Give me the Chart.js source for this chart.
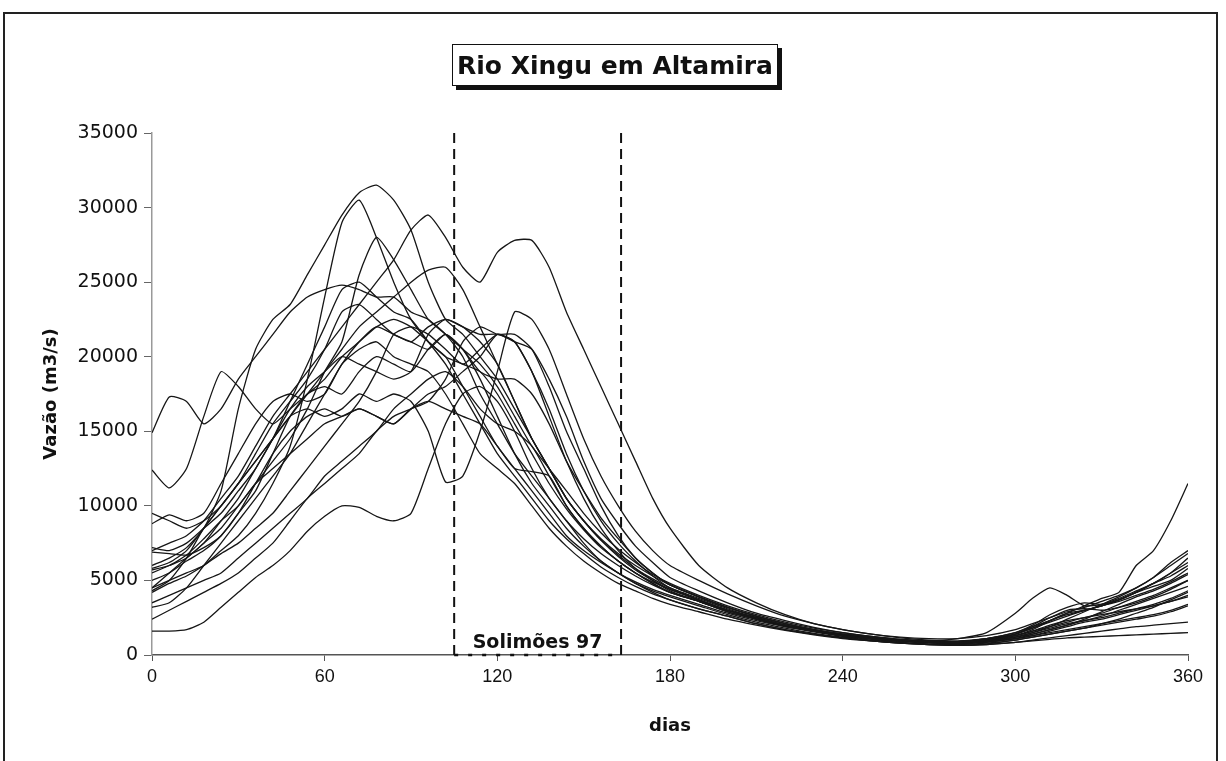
<!DOCTYPE html>
<html>
<head>
<meta charset="utf-8">
<script src="https://cdn.jsdelivr.net/npm/chart.js@4"></script>
<style>
  body { margin: 0; background: #fff; }
  #wrap { position: relative; width: 1226px; height: 761px; overflow: hidden; }
  #frame { position: absolute; left: 3px; top: 12px; width: 1211px; height: 760px;
           border: 2px solid #222; border-bottom: none; }
  #title { position: absolute; left: 452px; top: 44px; width: 324px; height: 40px;
           border: 1px solid #111; box-shadow: 4px 4px 0 #111; background: #fff;
           font: bold 25px "DejaVu Sans", sans-serif; color: #111;
           display: flex; align-items: center; justify-content: center; }
  canvas { position: absolute; left: 0; top: 0; }
</style>
</head>
<body>
<div id="wrap">
  <div id="frame"></div>
  <canvas id="chart" width="1226" height="761"></canvas>
  <div id="title">Rio Xingu em Altamira</div>
</div>
<script>
// dias do ano (eixo x) comuns a todas as series
const days = [0, 6, 12, 18, 24, 30, 36, 42, 48, 54, 60, 66, 72, 78, 84, 90, 96, 102, 108, 114, 120,
  126, 132, 138, 144, 150, 156, 162, 168, 174, 180,
  190, 200, 210, 220, 230, 240, 250, 260, 270, 280, 290, 300,
  306, 312, 318, 324, 330, 336, 342, 348, 354, 360];

// vazoes (m3/s), uma lista por ano
const s1 = [6000,6500,7200,8500,11000,16500,20500,22500,23500,25500,27500,29500,31000,31500,30500,28500,25000,22500,21500,20000,18500,
  16500,14500,12500,10500,9000,7800,6800,6000,5300,4700,
  3900,3200,2600,2100,1700,1400,1200,1000,900,850,1000,1300,1600,2000,2300,2500,2800,3200,3600,4000,4500,5000];
const s2 = [4500,5000,5500,6000,7000,8000,9500,11500,14000,18500,24000,29000,30500,28000,25000,22500,21000,20000,18000,16000,14000,
  12500,11000,9500,8000,7000,6200,5500,4900,4400,4000,
  3400,2800,2300,1900,1600,1300,1100,950,850,800,900,1200,1500,1800,2100,2300,2600,3000,3400,3800,4200,4600];
const s3 = [5500,6000,6500,7500,8500,10000,11500,13000,14500,16500,19000,21000,25500,28000,26500,24500,22500,21500,20500,19500,18000,
  16000,14000,12500,11000,9500,8200,7100,6200,5400,4800,
  4000,3300,2700,2200,1800,1500,1250,1050,950,900,1100,1500,2000,2700,3200,3500,3400,3700,4200,4800,5500,6200];
const s4 = [7000,7500,8000,9000,10500,12000,14000,16000,17500,19000,20500,22000,23500,25000,26500,28500,29500,28000,26000,25000,27000,
  27800,27800,26000,23000,20500,18000,15500,13000,10500,8500,
  6000,4500,3500,2700,2100,1700,1400,1200,1100,1100,1300,1700,2100,2500,2900,3200,3600,4000,4500,5200,6200,7000];
const s5 = [14900,17300,17000,15500,16500,18500,20000,21500,23000,24000,24500,24800,24500,24000,24000,23000,22500,21500,20000,17500,15500,
  13500,12000,10500,9000,7800,6800,6000,5300,4700,4200,
  3600,3000,2500,2000,1600,1300,1100,950,850,800,950,1200,1400,1700,2000,2400,2900,3400,3900,4300,4800,5400];
const s6 = [12400,11200,12500,16000,19000,18000,16500,15500,16500,17500,18500,20000,21000,22000,22500,22000,21000,20000,19500,19000,17500,
  15500,13500,11500,9800,8400,7200,6300,5500,4900,4400,
  3700,3000,2500,2000,1650,1350,1150,1000,900,900,1100,1500,1900,2300,2800,3300,3800,4200,6000,7000,9000,11500];
const s7 = [5800,6200,7000,8500,10000,11500,13000,14500,16000,16500,16000,16500,17500,17000,17500,17000,15000,11600,12000,15000,19000,
  23000,22500,20500,17500,14500,12000,10000,8300,7000,6000,
  5000,4100,3300,2600,2100,1700,1400,1150,1000,950,1100,1400,1800,2200,2600,3000,3300,3700,4200,4600,5000,5800];
const s8 = [1600,1600,1700,2200,3200,4200,5200,6000,7000,8300,9300,10000,9900,9300,9000,9500,12500,15500,17500,18000,17000,
  15000,12500,10500,9000,7500,6300,5500,4800,4200,3700,
  3100,2600,2100,1700,1400,1150,950,800,700,650,750,1000,1200,1400,1600,1800,2000,2200,2400,2600,2900,3300];
const s9 = [2400,3000,3600,4200,4800,5500,6500,7500,9000,10500,11500,12500,13500,15000,16000,16500,17000,18500,21000,22000,21500,
  21500,20500,18000,15000,12500,10000,8000,6500,5500,4700,
  3900,3200,2600,2100,1700,1400,1200,1000,950,1100,1500,2800,3800,4500,4000,3300,3400,3800,4300,4800,5500,6500];
const s10 = [3200,3500,4500,6000,7500,9000,10500,12000,13500,15500,17500,19500,21000,22000,21500,21000,22000,22500,22000,21500,21500,
  21000,19000,16500,13500,11000,9000,7500,6300,5300,4500,
  3700,3000,2400,1900,1550,1250,1050,900,800,750,850,1100,1300,1500,1700,1900,2100,2300,2500,2700,3000,3400];
const s11 = [4300,5000,6500,8500,10000,11500,13500,15500,17000,18500,20500,23000,23500,22500,21500,21000,20500,21500,20500,18500,16000,
  13500,11500,10000,8500,7300,6300,5500,4800,4300,3900,
  3300,2700,2200,1800,1450,1200,1000,850,750,700,800,1000,1200,1400,1600,1800,2100,2400,2800,3200,3700,4200];
const s12 = [5000,5500,6300,7000,8000,9500,11500,13500,15000,16000,16500,16000,16500,16000,15500,16500,17500,18000,19000,20000,21500,
  21000,19000,16000,13000,10500,8500,7000,5800,5000,4300,
  3600,2900,2400,1950,1600,1300,1100,950,850,800,950,1300,1700,2300,2800,3000,3300,3700,4200,4800,5300,6000];
const s13 = [6900,6800,6700,7200,8000,9500,11000,13500,16000,17500,18000,17500,19000,20000,19500,19000,20500,21500,20500,19000,18500,
  18500,17500,15500,13000,11000,9200,7800,6500,5500,4700,
  3900,3200,2600,2100,1700,1400,1200,1000,900,850,1000,1300,1600,1900,2200,2500,2700,2900,3100,3300,3600,3900];
const s14 = [8800,9400,9000,9500,11500,13500,15500,17000,17500,17000,17500,19500,20500,21000,20000,19500,19000,17500,15500,13500,12500,
  11500,10000,8500,7300,6300,5500,4800,4300,3800,3400,
  2900,2400,2000,1650,1350,1100,950,800,700,650,700,850,1000,1150,1300,1450,1600,1750,1900,2000,2100,2200];
const s15 = [7200,7000,7500,8500,9500,11000,12500,14500,16500,18000,19000,20000,19500,19000,18500,19000,21500,22500,22000,21000,19500,
  17000,14500,12500,10500,9000,7700,6600,5700,5000,4400,
  3700,3000,2500,2000,1650,1350,1150,1000,900,850,1000,1400,1900,2500,3000,3100,3000,3200,3500,3900,4400,5000];
const s16 = [4500,5500,6500,7500,9000,10500,12500,14500,17000,19500,22000,24500,25000,24000,23000,22500,21000,19500,17500,15500,13500,
  12000,10500,9000,7800,6800,5900,5200,4600,4100,3700,
  3100,2600,2100,1700,1400,1150,950,800,700,650,700,850,950,1050,1150,1200,1250,1300,1350,1400,1450,1500];
const s17 = [5700,6000,6700,7800,9000,10000,11500,12500,13500,14500,15500,16000,16500,16000,15500,16500,17000,16500,16000,15500,14000,
  12500,12300,12000,10000,8500,7300,6300,5500,4800,4200,
  3600,2900,2400,1950,1600,1300,1100,950,850,800,900,1100,1400,1700,2000,2300,2500,2800,3100,3400,3800,4300];
const s18 = [9500,9000,8500,9000,10000,11500,13000,14500,16000,17500,19000,20500,22000,23000,24000,25000,25800,26000,24500,22000,19500,
  17000,14500,12500,10500,9000,7700,6700,5800,5100,4500,
  3800,3100,2500,2000,1650,1350,1150,1000,900,850,950,1200,1500,1900,2400,2900,3400,3900,4500,5200,6000,6800];
const s19 = [4200,4800,5300,6000,6800,7500,8500,9500,11000,12500,14000,15500,17000,19000,21500,22000,21500,20500,19500,20500,21500,
  21000,20500,18500,16000,13000,10500,8800,7300,6200,5200,
  4300,3500,2800,2300,1850,1500,1250,1050,950,900,1050,1400,1800,2300,2700,3000,3300,3600,4000,4400,4900,5500];
const s20 = [3500,4000,4500,5000,5500,6500,7500,8500,9500,10500,12000,13000,14000,15000,16500,17500,18500,19000,18000,16500,15500,
  15000,14000,12000,10000,8500,7300,6300,5500,4800,4200,
  3600,2900,2400,1950,1600,1300,1100,950,850,800,900,1100,1300,1600,1900,2200,2400,2700,3000,3300,3600,4000];

const allSeries = [s1, s2, s3, s4, s5, s6, s7, s8, s9, s10, s11, s12, s13, s14, s15, s16, s17, s18, s19, s20];

// periodo destacado (Solimoes 97)
const solimoesDays = [105, 163];
const flowRange = [0, 35000];
const solimoesLabel = "Solimões 97";

const xTicks = [0, 60, 120, 180, 240, 300, 360];

const ctx = document.getElementById("chart");

const datasets = allSeries.map((s, k) => ({
  label: "ano " + (k + 1),
  data: days.map((d, i) => ({ x: d, y: s[i] })),
  borderColor: "#161616",
  borderWidth: 1.3,
  pointRadius: 0,
  tension: 0.2,
  fill: false
}));

// linhas tracejadas do periodo
solimoesDays.forEach(d => {
  datasets.push({
    label: "limite",
    data: [{ x: d, y: flowRange[0] }, { x: d, y: flowRange[1] }],
    borderColor: "#111",
    borderWidth: 2,
    borderDash: [10, 6],
    pointRadius: 0
  });
});
datasets.push({
  label: "base",
  data: [{ x: solimoesDays[0], y: 0 }, { x: solimoesDays[1], y: 0 }],
  borderColor: "#111",
  borderWidth: 2.5,
  borderDash: [4, 10],
  pointRadius: 0,
  clip: false
});

const labelPlugin = {
  id: "solimoesLabel",
  afterDatasetsDraw(chart) {
    const { ctx, scales } = chart;
    const x = scales.x.getPixelForValue((solimoesDays[0] + solimoesDays[1]) / 2);
    const y = scales.y.getPixelForValue(800);
    ctx.save();
    ctx.font = 'bold 19px "DejaVu Sans", sans-serif';
    ctx.fillStyle = "#111";
    ctx.textAlign = "center";
    ctx.textBaseline = "middle";
    ctx.fillText(solimoesLabel, x, y);
    ctx.restore();
  }
};

new Chart(ctx, {
  type: "line",
  data: { datasets: datasets },
  plugins: [labelPlugin],
  options: {
    responsive: false,
    animation: false,
    devicePixelRatio: 1,
    layout: { padding: { left: 0, top: 133, right: 38, bottom: 0 } },
    plugins: { legend: { display: false }, tooltip: { enabled: false }, title: { display: false } },
    scales: {
      x: {
        type: "linear",
        min: 0, max: 360,
        afterBuildTicks: s => { s.ticks = xTicks.map(v => ({ value: v })); },
        afterFit: s => { s.height = 106; },
        border: { color: "#555", width: 1.5 },
        grid: { drawOnChartArea: false, tickLength: 6, color: "#555" },
        ticks: { color: "#111", padding: 5, font: { family: "Arial, 'Liberation Sans'", size: 18 },
                 callback: v => String(v) },
        title: { display: true, text: "dias", color: "#111",
                 padding: { top: 0, bottom: 24 },
                 font: { family: "'DejaVu Sans'", size: 18, weight: "bold" } }
      },
      y: {
        min: 0, max: 35000,
        ticks: { stepSize: 5000, color: "#111", padding: 6,
                 font: { family: "'DejaVu Sans'", size: 19 },
                 callback: v => String(v) },
        afterFit: s => { s.width = 152; },
        border: { color: "#999", width: 1.5 },
        grid: { drawOnChartArea: false, tickLength: 8, color: "#666" },
        title: { display: true, text: "Vazão (m3/s)", color: "#111",
                 padding: { top: 41, bottom: 0 },
                 font: { family: "'DejaVu Sans'", size: 18, weight: "bold" } }
      }
    }
  }
});
</script>
</body>
</html>
